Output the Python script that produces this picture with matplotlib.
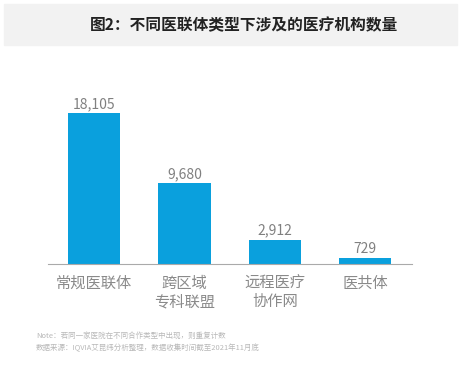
import matplotlib.pyplot as plt
from matplotlib.patches import Rectangle

plt.rcParams['font.family'] = ['Noto Sans CJK SC', 'DejaVu Sans']

categories = ["常规医联体", "跨区域\n专科联盟", "远程医疗\n协作网", "医共体"]
values = [18105, 9680, 2912, 729]
title = "图2：不同医联体类型下涉及的医疗机构数量"
note1 = "Note：若同一家医院在不同合作类型中出现，则重复计数"
note2 = "数据来源：IQVIA艾昆纬分析整理，数据收集时间截至2021年11月底"

fig = plt.figure(figsize=(4.61, 3.65), dpi=100)
fig.patches.append(Rectangle((4/461, 1-45/365), 453/461, 41/365,
                             transform=fig.transFigure, color="#f2f2f2", zorder=0))
fig.text(0.53, 1-25/365, title, ha="center", va="center",
         fontsize=11.3, fontweight="bold", color="#222222")

ax = fig.add_axes([48/461, 1-264/365, 364/461, 174/365])
x = range(len(values))
ax.bar(x, values, width=0.58, color="#0aa0dd")
for i, v in zip(x, values):
    ax.text(i, v + 250, f"{v:,}", ha="center", va="bottom", fontsize=10, color="#808080")

ax.set_xlim(-0.51, 3.52)
ax.set_ylim(0, 20860)
ax.set_yticks([])
ax.set_xticks(list(x))
ax.set_xticklabels(categories, fontsize=11, color="#8a8a8a", linespacing=1.1)
ax.tick_params(axis="x", length=0, pad=8)
for s in ["top", "right", "left"]:
    ax.spines[s].set_visible(False)
ax.spines["bottom"].set_color("#aaaaaa")

fig.text(36/461, 1-336/365, note1, fontsize=5.4, color="#b8b8b8", va="center")
fig.text(36/461, 1-348/365, note2, fontsize=5.4, color="#b8b8b8", va="center")

plt.savefig("out.png", dpi=100)
